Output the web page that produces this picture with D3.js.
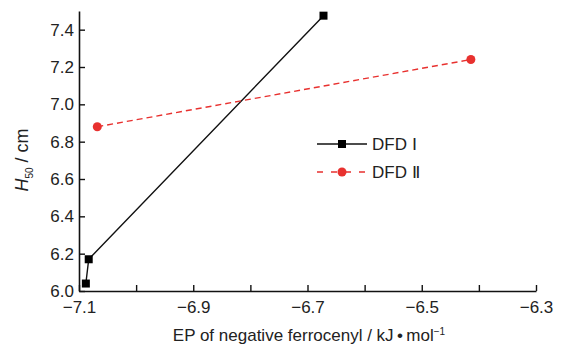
<!DOCTYPE html>
<html>
<head>
<meta charset="utf-8">
<script src="https://cdn.jsdelivr.net/npm/d3@7"></script>
<style>
  body { margin: 0; background: #fff; }
  text { font-family: "Liberation Sans", Arial, sans-serif; fill: #222; }
</style>
</head>
<body>
<div id="chart"></div>
<script>
// data
var seriesNames = ["DFD \u2160", "DFD \u2161"];
var dfd1X = [-7.088, -7.083, -6.672];
var dfd1Y = [6.04, 6.17, 7.475];
var dfd2X = [-7.068, -6.414];
var dfd2Y = [6.88, 7.24];
var xTicks = [-7.1, -7.0, -6.9, -6.8, -6.7, -6.6, -6.5, -6.4, -6.3];
var xLabelTicks = [-7.1, -6.9, -6.7, -6.5, -6.3];
var yTicks = [6.0, 6.2, 6.4, 6.6, 6.8, 7.0, 7.2, 7.4];

var W = 561, H = 347;
var margin = {top: 11, right: 25, bottom: 56, left: 79};
var width = W - margin.left - margin.right;
var height = H - margin.top - margin.bottom;

var svg = d3.select("#chart")
  .append("svg")
    .attr("width", W)
    .attr("height", H)
  .append("g")
    .attr("transform", "translate(" + margin.left + "," + margin.top + ")");

var x = d3.scaleLinear().domain([-7.1, -6.3]).range([0, width]);
var y = d3.scaleLinear().domain([6.0, 7.5]).range([height, 0]);

var fmt = function(d) { return d3.format(".1f")(d).replace("-", "\u2212"); };

// X axis
var gx = svg.append("g")
  .attr("transform", "translate(0," + height + ")")
  .call(d3.axisBottom(x).tickValues(xTicks).tickSizeInner(-6).tickSizeOuter(0)
    .tickFormat(function(d) { return xLabelTicks.some(function(v){ return Math.abs(v - d) < 1e-9; }) ? fmt(d) : ""; }));
gx.select(".domain").attr("stroke", "#111").attr("stroke-width", 1.6);
gx.selectAll(".tick line").attr("stroke", "#111").attr("stroke-width", 1.4);
gx.selectAll(".tick text").attr("dy", "1.05em").attr("y", 4)
  .style("font-size", "17px").attr("fill", "#222");

// Y axis
var gy = svg.append("g")
  .call(d3.axisLeft(y).tickValues(yTicks).tickSizeInner(-6).tickSizeOuter(0).tickFormat(function(d){ return d.toFixed(1); }));
gy.select(".domain").attr("stroke", "#111").attr("stroke-width", 1.6);
gy.selectAll(".tick line").attr("stroke", "#111").attr("stroke-width", 1.4);
gy.selectAll(".tick text").attr("x", -5).style("font-size", "17px").attr("fill", "#222");

// axis titles
svg.append("text")
  .attr("x", 309 - margin.left)
  .attr("y", 341 - margin.top)
  .attr("text-anchor", "middle")
  .style("font-size", "17px")
  .html("EP of negative ferrocenyl / kJ\u2009\u2022\u2009mol<tspan dy='-6' style='font-size:10px'>\u22121</tspan>");

svg.append("text")
  .attr("transform", "translate(" + (-51) + "," + (160 - margin.top) + ") rotate(-90)")
  .attr("text-anchor", "middle")
  .style("font-size", "18px")
  .html("<tspan font-style='italic'>H</tspan><tspan dy='5' style='font-size:10px'>50</tspan><tspan dy='-5'> / cm</tspan>");

// lines
var line = d3.line().x(function(d){ return x(d[0]); }).y(function(d){ return y(d[1]); });
var s1 = dfd1X.map(function(v, i){ return [v, dfd1Y[i]]; });
var s2 = dfd2X.map(function(v, i){ return [v, dfd2Y[i]]; });

svg.append("path").datum(s1).attr("d", line)
  .attr("fill", "none").attr("stroke", "#111").attr("stroke-width", 1.4);
svg.append("path").datum(s2).attr("d", line)
  .attr("fill", "none").attr("stroke", "#e8312f").attr("stroke-width", 1.4)
  .attr("stroke-dasharray", "6,4");

var sq = 8;
svg.selectAll("sq").data(s1).enter().append("rect")
  .attr("x", function(d){ return x(d[0]) - sq / 2; })
  .attr("y", function(d){ return y(d[1]) - sq / 2; })
  .attr("width", sq).attr("height", sq).attr("fill", "#000");
svg.selectAll("ci").data(s2).enter().append("circle")
  .attr("cx", function(d){ return x(d[0]); })
  .attr("cy", function(d){ return y(d[1]); })
  .attr("r", 4.5).attr("fill", "#e8312f");

// legend
var lg = svg.append("g").attr("transform", "translate(" + (317 - margin.left) + "," + (144 - margin.top) + ")");
lg.append("line").attr("x1", 0).attr("x2", 50).attr("y1", 0).attr("y2", 0)
  .attr("stroke", "#111").attr("stroke-width", 1.4);
lg.append("rect").attr("x", 25 - sq / 2).attr("y", -sq / 2).attr("width", sq).attr("height", sq).attr("fill", "#000");
lg.append("line").attr("x1", 0).attr("x2", 50).attr("y1", 28).attr("y2", 28)
  .attr("stroke", "#e8312f").attr("stroke-width", 1.4).attr("stroke-dasharray", "6,8");
lg.append("circle").attr("cx", 25).attr("cy", 28).attr("r", 4.5).attr("fill", "#e8312f");
lg.selectAll("lt").data(seriesNames).enter().append("text")
  .attr("x", 55)
  .attr("y", function(d, i){ return i * 28; })
  .attr("dy", "0.36em")
  .style("font-size", "17px")
  .text(function(d){ return d; });
</script>
</body>
</html>
